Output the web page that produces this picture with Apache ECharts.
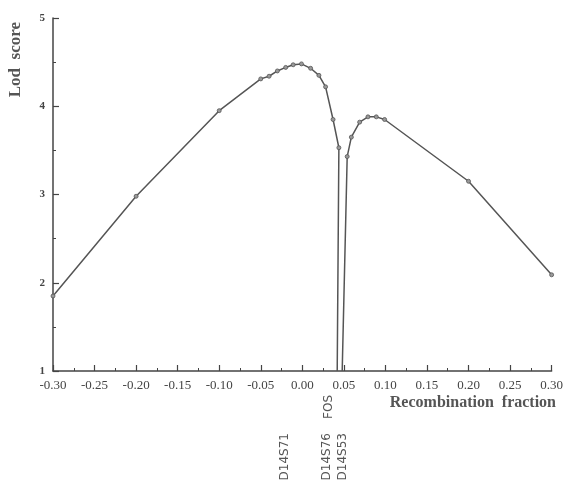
<!DOCTYPE html>
<html>
<head>
<meta charset="utf-8">
<script src="https://cdn.jsdelivr.net/npm/echarts@6/dist/echarts.min.js"></script>
<style>
html,body{margin:0;padding:0;background:#fff;}
#chart{width:566px;height:486px;}
</style>
</head>
<body>
<div id="chart"></div>
<script>
// left branch, up to the drop at the FOS locus
var leftX = [-0.30, -0.20, -0.10, -0.05, -0.04, -0.03, -0.02, -0.011, -0.001, 0.01, 0.02, 0.028, 0.037, 0.044, 0.042];
var leftY = [1.85, 2.98, 3.95, 4.31, 4.34, 4.40, 4.44, 4.47, 4.48, 4.43, 4.35, 4.22, 3.85, 3.53, 1.0];
// right branch
var rightX = [0.048, 0.054, 0.059, 0.069, 0.079, 0.089, 0.099, 0.20, 0.30];
var rightY = [1.0, 3.43, 3.65, 3.82, 3.88, 3.88, 3.85, 3.15, 2.09];
var markerNames = ['D14S71', 'D14S76', 'FOS', 'D14S53'];

function pointsOnly(xs, ys){
    // the ends sitting on the axis are not measured points
    var out = [];
    for(var i=0;i<xs.length;i++){
        out.push({value:[xs[i], ys[i]], symbolSize: ys[i] <= 1 ? 0 : 4});
    }
    return out;
}

var chart = echarts.init(document.getElementById('chart'));
var lineColor = '#555';
var serif = '"Liberation Serif", "DejaVu Serif", serif';
var sans = '12px "DejaVu Sans", sans-serif';

var branch = function(data){
    return {
        type:'line',
        data:data,
        symbol:'circle',
        showSymbol:true,
        animation:false,
        lineStyle:{color:lineColor, width:1.5},
        itemStyle:{color:'#999', borderColor:'#555', borderWidth:0.8}
    };
};

var option = {
    animation:false,
    grid:{left:53, right:13, top:18, bottom:115},
    xAxis:{
        type:'value',
        min:-0.30,
        max:0.30,
        interval:0.05,
        axisLine:{show:true, onZero:false, lineStyle:{color:'#444', width:1.5}},
        axisTick:{show:true, inside:true, length:6, lineStyle:{color:'#444', width:1.2}},
        minorTick:{show:true, splitNumber:2, length:3, lineStyle:{color:'#444', width:1}},
        splitLine:{show:false},
        axisLabel:{
            color:'#444', fontFamily:serif, fontSize:13, margin:8,
            formatter:function(v){ return v.toFixed(2); }
        }
    },
    yAxis:{
        type:'value',
        min:1,
        max:5,
        interval:1,
        axisLine:{show:true, onZero:false, lineStyle:{color:'#444', width:1.5}},
        axisTick:{show:true, inside:true, length:6, lineStyle:{color:'#444', width:1.2}},
        minorTick:{show:true, splitNumber:2, length:3, lineStyle:{color:'#444', width:1}},
        splitLine:{show:false},
        axisLabel:{color:'#444', fontFamily:serif, fontSize:11, fontWeight:'bold', margin:8}
    },
    series:[
        branch(pointsOnly(leftX, leftY)),
        branch(pointsOnly(rightX, rightY))
    ],
    graphic:[
        {type:'text', left:7, top:22, rotation:Math.PI/2,
         style:{text:'Lod  score', font:'bold 17px ' + serif, fill:'#555'}},
        {type:'text', right:10, top:395,
         style:{text:'Recombination  fraction', font:'bold 16px ' + serif, fill:'#555'}},
        {type:'text', x:329, y:395, rotation:Math.PI/2,
         style:{text:markerNames[2], font:sans, fill:'#555', align:'right', verticalAlign:'middle'}},
        {type:'text', x:285, y:433, rotation:Math.PI/2,
         style:{text:markerNames[0], font:sans, fill:'#555', align:'right', verticalAlign:'middle'}},
        {type:'text', x:327, y:433, rotation:Math.PI/2,
         style:{text:markerNames[1], font:sans, fill:'#555', align:'right', verticalAlign:'middle'}},
        {type:'text', x:343, y:433, rotation:Math.PI/2,
         style:{text:markerNames[3], font:sans, fill:'#555', align:'right', verticalAlign:'middle'}}
    ]
};
chart.setOption(option);
</script>
</body>
</html>
